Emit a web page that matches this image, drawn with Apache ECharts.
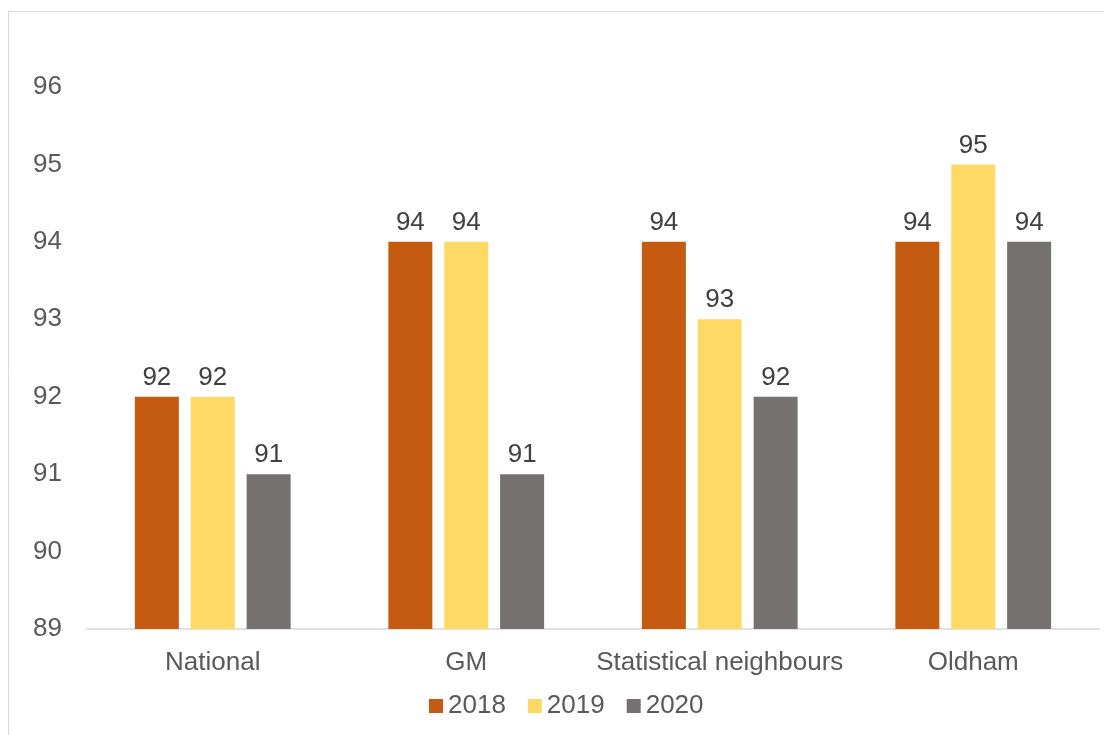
<!DOCTYPE html>
<html>
<head>
<meta charset="utf-8">
<script src="https://cdn.jsdelivr.net/npm/echarts@6/dist/echarts.min.js"></script>
<style>
  html, body { margin: 0; padding: 0; background: #fff; }
  #chart { width: 1104px; height: 735px; }
</style>
</head>
<body>
<div id="chart"></div>
<script>
var categories = ['National', 'GM', 'Statistical neighbours', 'Oldham'];
var years = ['2018', '2019', '2020'];
var values2018 = [92, 94, 94, 94];
var values2019 = [92, 94, 93, 95];
var values2020 = [91, 91, 92, 94];
var colors = ['#C55A11', '#FFD966', '#767171'];

var myChart = echarts.init(document.getElementById('chart'));

function barSeries(name, data) {
	return {
		name: name,
		type: 'bar',
		data: data,
		barWidth: 44,
		barGap: '27%',
		label: {
			show: true,
			position: 'top',
			distance: 6,
			color: '#404040',
			fontSize: 26,
			fontFamily: 'Liberation Sans, Arial, sans-serif'
		}
	};
}

myChart.setOption({
	color: colors,
	animation: false,
	textStyle: { fontFamily: 'Liberation Sans, Arial, sans-serif' },
	graphic: [{
		type: 'rect',
		shape: { x: 8.5, y: 11.5, width: 1120, height: 760 },
		style: { fill: 'none', stroke: '#d9d9d9', lineWidth: 1 },
		silent: true
	}],
	grid: {
		left: 86,
		right: 4,
		top: 87,
		bottom: 106,
		containLabel: false
	},
	legend: {
		data: years,
		bottom: 11,
		left: 424,
		icon: 'rect',
		itemWidth: 14,
		itemHeight: 14,
		itemGap: 22,
		textStyle: { fontSize: 26, color: '#595959' }
	},
	xAxis: {
		type: 'category',
		data: categories,
		axisTick: { show: false },
		axisLine: { lineStyle: { color: '#d9d9d9', width: 1.5 } },
		axisLabel: { fontSize: 26, color: '#595959', margin: 21, interval: 0 }
	},
	yAxis: {
		type: 'value',
		min: 89,
		max: 96,
		interval: 1,
		axisLine: { show: false },
		axisTick: { show: false },
		splitLine: { show: false },
		axisLabel: { fontSize: 26, color: '#595959', margin: 24 }
	},
	series: [
		barSeries(years[0], values2018),
		barSeries(years[1], values2019),
		barSeries(years[2], values2020)
	]
});
</script>
</body>
</html>
